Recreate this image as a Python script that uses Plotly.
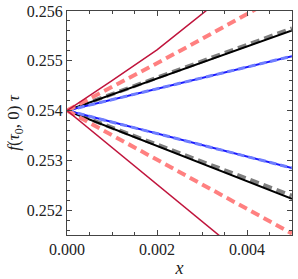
import plotly.graph_objects as go

x = [0.0, 0.001, 0.002, 0.003, 0.004, 0.005]

crimson_up = [0.25400, 0.25460, 0.25522, 0.25592, 0.25664, 0.25738]
crimson_dn = [0.25400, 0.253258, 0.252516, 0.251774, 0.251032, 0.25029]
salmon_up = [0.25400, 0.25447, 0.25495, 0.25544, 0.25594, 0.25644]
salmon_dn = [0.25400, 0.253506, 0.253012, 0.252518, 0.252024, 0.25153]
black_up = [0.25400, 0.254322, 0.254643, 0.254965, 0.255286, 0.255608]
black_dn = [0.25400, 0.253645, 0.25329, 0.252936, 0.252581, 0.252227]
gray_up = [0.25400, 0.25433, 0.25466, 0.25499, 0.25532, 0.25565]
gray_dn = [0.25400, 0.253658, 0.253316, 0.252974, 0.252632, 0.25229]
blue_up = [0.25400, 0.254219, 0.254437, 0.254656, 0.254874, 0.255093]
blue_dn = [0.25400, 0.253769, 0.253538, 0.253307, 0.253076, 0.252845]
blue_dash_up = [0.25400, 0.254219, 0.254437, 0.254656, 0.254874, 0.255093]
blue_dash_dn = [0.25400, 0.253769, 0.253538, 0.253307, 0.253076, 0.252845]

fig = go.Figure()

def add(y, color, width, dash):
    fig.add_trace(go.Scatter(x=x, y=y, mode="lines",
                             line=dict(color=color, width=width, dash=dash),
                             showlegend=False))

add(gray_up, "#7f7f7f", 4, "9px,5px")
add(gray_dn, "#7f7f7f", 4, "9px,5px")
add(black_up, "black", 2, "solid")
add(black_dn, "black", 2, "solid")
add(blue_up, "#1a1aff", 2, "solid")
add(blue_dn, "#1a1aff", 2, "solid")
add(blue_dash_up, "#6f7dff", 3, "7px,4px")
add(blue_dash_dn, "#6f7dff", 3, "7px,4px")
add(salmon_up, "#ff8080", 4, "9px,5px")
add(salmon_dn, "#ff8080", 4, "9px,5px")
add(crimson_up, "#c0143c", 1.5, "solid")
add(crimson_dn, "#c0143c", 1.5, "solid")

axis_common = dict(
    showline=True, linecolor="#444", linewidth=1.2, mirror="ticks",
    ticks="inside", ticklen=5, tickcolor="#444",
    showgrid=False, zeroline=False, automargin=False,
    tickfont=dict(family="Liberation Serif", size=16, color="#222"),
)

fig.update_xaxes(range=[0, 0.005], tickvals=[0.0, 0.002, 0.004],
                 ticktext=["0.000", "0.002", "0.004"],
                 minor=dict(dtick=0.0005, ticks="inside", ticklen=3, tickcolor="#444"),
                 title=dict(text="<i>x</i>", font=dict(family="Liberation Serif", size=18, color="#222"), standoff=2),
                 **axis_common)
fig.update_yaxes(range=[0.2515, 0.256], tickvals=[0.252, 0.253, 0.254, 0.255, 0.256],
                 ticktext=["0.252", "0.253", "0.254", "0.255", "0.256"],
                 minor=dict(dtick=0.0002, ticks="inside", ticklen=3, tickcolor="#444"),
                 title=dict(text="<i>f</i>(<i>τ</i><sub>0</sub>, 0) <i>τ</i>",
                            font=dict(family="Liberation Serif", size=17, color="#222"), standoff=2),
                 **axis_common)

fig.update_layout(width=298, height=279, margin=dict(l=67, r=6, t=11, b=44),
                  plot_bgcolor="white", paper_bgcolor="white")

fig.write_html("out.html", config={"displayModeBar": False},
               post_script="document.body.style.margin='0';document.body.style.overflow='hidden';")
